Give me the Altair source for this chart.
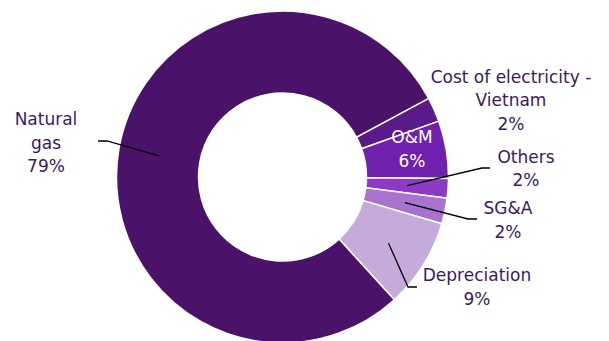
import math
import altair as alt
import pandas as pd

# ---- data ----
categories = ["Cost of electricity - Vietnam", "O&M", "Others", "SG&A", "Depreciation", "Natural gas"]
values = [2.4, 5.6, 1.9, 2.5, 8.7, 78.9]
label_texts = ["Cost of electricity -\nVietnam\n2%", "O&M\n6%", "Others\n2%", "SG&A\n2%", "Depreciation\n9%", "Natural\ngas\n79%"]
colors = ["#5a1a8a", "#7020ae", "#8c3ac6", "#a872cf", "#c5abd9", "#4a1268"]

# ---- layout ----
W, H = 609, 341
CX, CY = 282.5, 177
R_IN, R_OUT = 84, 166
START = math.radians(61.7)
label_x = [511, 412, 526, 508, 477, 46]
label_y = [77.5, 138, 157.5, 209, 276, 120]
label_col = ["#3b1a5c", "#ffffff", "#3b1a5c", "#3b1a5c", "#3b1a5c", "#3b1a5c"]
has_leader = [False, False, True, True, True, True]
elbow = {"Others": [(482, 168), (490, 168)],
         "SG&A": [(468, 219), (477, 219)],
         "Depreciation": [(408, 287), (417, 287)],
         "Natural gas": [(107, 141), (98, 141)]}
LEADER_R = 125

df = pd.DataFrame({"cat": categories, "value": values, "ord": range(len(categories))})

xs = alt.Scale(domain=[0, W], range=[0, W])
ys = alt.Scale(domain=[H, 0], range=[H, 0])

arc = alt.Chart(df).mark_arc(innerRadius=R_IN, outerRadius=R_OUT, stroke="white", strokeWidth=1.5).encode(
    theta=alt.Theta("value:Q", stack=True, scale=alt.Scale(range=[START, START + 2 * math.pi])),
    color=alt.Color("cat:N", scale=alt.Scale(domain=categories, range=colors), legend=None),
    order=alt.Order("ord:Q"),
    x=alt.value(CX), y=alt.value(CY),
)

# text labels
tdf = pd.DataFrame({"cat": categories, "txt": label_texts, "x": label_x, "y": label_y, "col": label_col})
text = alt.Chart(tdf).mark_text(font="DejaVu Sans", fontSize=17, lineBreak="\n", lineHeight=23.5,
                                align="center", baseline="middle").encode(
    x=alt.X("x:Q", scale=xs, axis=None),
    y=alt.Y("y:Q", scale=ys, axis=None),
    text="txt:N",
    color=alt.Color("col:N", scale=None),
)

# leader lines: start at slice mid-angle
total = sum(values)
rows = []
cum = 0.0
for c, v, hl in zip(categories, values, has_leader):
    mid = START + 2 * math.pi * (cum + v / 2) / total
    cum += v
    if not hl:
        continue
    pts = [(CX + LEADER_R * math.sin(mid), CY - LEADER_R * math.cos(mid))] + elbow[c]
    for i, (px, py) in enumerate(pts):
        rows.append({"cat": c, "i": i, "x": px, "y": py})
ldf = pd.DataFrame(rows)
lines = alt.Chart(ldf).mark_line(color="black", strokeWidth=1.3).encode(
    x=alt.X("x:Q", scale=xs, axis=None),
    y=alt.Y("y:Q", scale=ys, axis=None),
    detail="cat:N",
    order="i:Q",
)

chart = alt.layer(arc, lines, text).properties(
    width=W, height=H, padding=0, autosize="none", background="white"
).configure_view(stroke="transparent", strokeWidth=0)

chart.save("out.html", embed_options={"renderer": "svg", "actions": False})
